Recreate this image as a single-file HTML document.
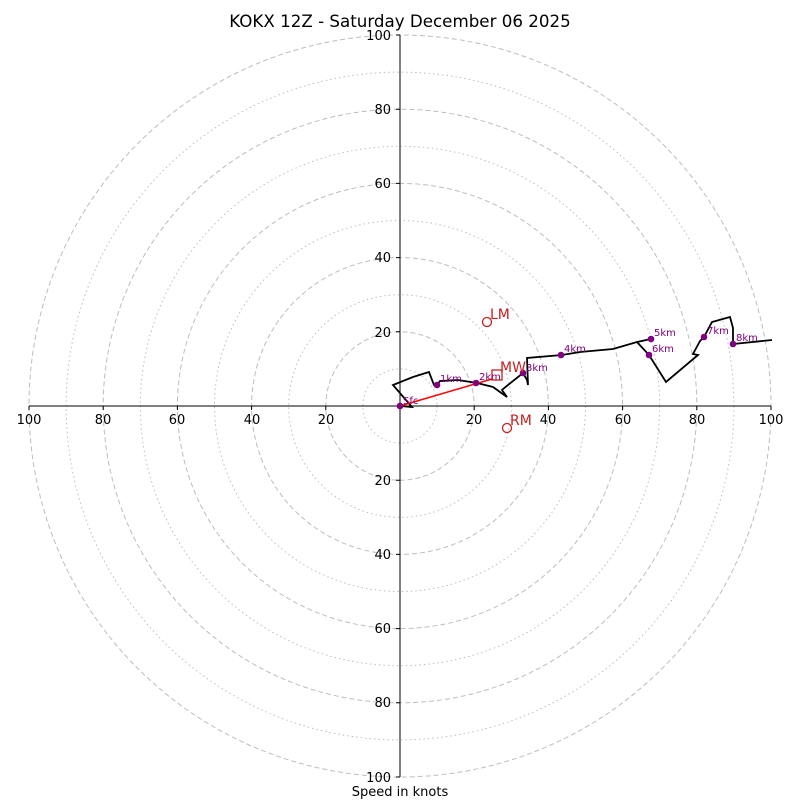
<!DOCTYPE html>
<html><head><style>body{margin:0;background:#fff}svg{display:block}</style></head><body>
<svg width="800" height="800" xmlns="http://www.w3.org/2000/svg" font-family="DejaVu Sans, Liberation Sans, sans-serif">
<rect width="800" height="800" fill="#fff"/>
<g fill="none" stroke="#bdbdbd">
<circle cx="400" cy="406" r="37.1" stroke-dasharray="1.5,3"/>
<circle cx="400" cy="406" r="74.2" stroke-dasharray="5,3"/>
<circle cx="400" cy="406" r="111.3" stroke-dasharray="1.5,3"/>
<circle cx="400" cy="406" r="148.4" stroke-dasharray="5,3"/>
<circle cx="400" cy="406" r="185.5" stroke-dasharray="1.5,3"/>
<circle cx="400" cy="406" r="222.6" stroke-dasharray="5,3"/>
<circle cx="400" cy="406" r="259.7" stroke-dasharray="1.5,3"/>
<circle cx="400" cy="406" r="296.8" stroke-dasharray="5,3"/>
<circle cx="400" cy="406" r="333.9" stroke-dasharray="1.5,3"/>
<circle cx="400" cy="406" r="371" stroke-dasharray="5,3"/>
</g>
<g stroke="#000" stroke-width="1">
<line x1="400" y1="35" x2="400" y2="777"/>
<line x1="29" y1="406" x2="771" y2="406"/>
<path d="M396 35h4M396 109.2h4M396 183.4h4M396 257.6h4M396 331.8h4M396 480.2h4M396 554.4h4M396 628.6h4M396 702.8h4M396 777h4"/>
<path d="M29 406v4M103.2 406v4M177.4 406v4M251.6 406v4M325.8 406v4M474.2 406v4M548.4 406v4M622.6 406v4M696.8 406v4M771 406v4"/>
</g>
<g font-size="13" fill="#000">
<g text-anchor="end">
<text x="391" y="40">100</text><text x="391" y="114">80</text><text x="391" y="188">60</text><text x="391" y="262">40</text><text x="391" y="337">20</text>
<text x="391" y="485">20</text><text x="391" y="559">40</text><text x="391" y="633">60</text><text x="391" y="707">80</text><text x="391" y="782">100</text>
</g>
<g text-anchor="middle">
<text x="29" y="424">100</text><text x="103" y="424">80</text><text x="177" y="424">60</text><text x="252" y="424">40</text><text x="326" y="424">20</text>
<text x="474" y="424">20</text><text x="548" y="424">40</text><text x="623" y="424">60</text><text x="697" y="424">80</text><text x="771" y="424">100</text>
<text x="400" y="796">Speed in knots</text>
<text x="400" y="27" font-size="16.7">KOKX 12Z - Saturday December 06 2025</text>
</g>
</g>
<polyline fill="none" stroke="#000" stroke-width="1.8" stroke-linejoin="miter" points="400,406 412,407 393,385 413,377 429,372 434,385 437,385 440,381 458,380 477,383 493,387 507,397 502,390 503,389 523,373 527,380 528,385 527,358 562,355 580,352 613,349 637,342 651,339 637,342 649,355 666,382 698,355 693,354 700,341 704,337 712,322 730,317 733,328 733,344 772,340"/>
<line x1="400" y1="406" x2="492" y2="379" stroke="#f00" stroke-width="1.5"/>
<g fill="#800080">
<circle cx="400" cy="406" r="3.3"/><circle cx="437" cy="385" r="3.3"/><circle cx="476" cy="383" r="3.3"/><circle cx="523" cy="373" r="3.3"/><circle cx="561" cy="355" r="3.3"/><circle cx="651" cy="339" r="3.3"/><circle cx="649" cy="355" r="3.3"/><circle cx="704" cy="337" r="3.3"/><circle cx="733" cy="344" r="3.3"/>
</g>
<g fill="#800080" font-size="10">
<text x="403" y="404">Sfc</text><text x="440" y="382">1km</text><text x="479" y="380">2km</text><text x="526" y="371">3km</text><text x="564" y="352">4km</text><text x="654" y="336">5km</text><text x="652" y="352">6km</text><text x="707" y="334">7km</text><text x="736" y="341">8km</text>
</g>
<g fill="none" stroke="#c82020" stroke-width="1.3">
<circle cx="487" cy="322" r="4.5"/><circle cx="507" cy="428" r="4.5"/><rect x="492" y="370" width="10" height="10"/>
</g>
<g fill="#c82020" font-size="14">
<text x="490" y="319">LM</text><text x="510" y="425">RM</text><text x="500" y="372">MW</text>
</g>
</svg>
</body></html>
